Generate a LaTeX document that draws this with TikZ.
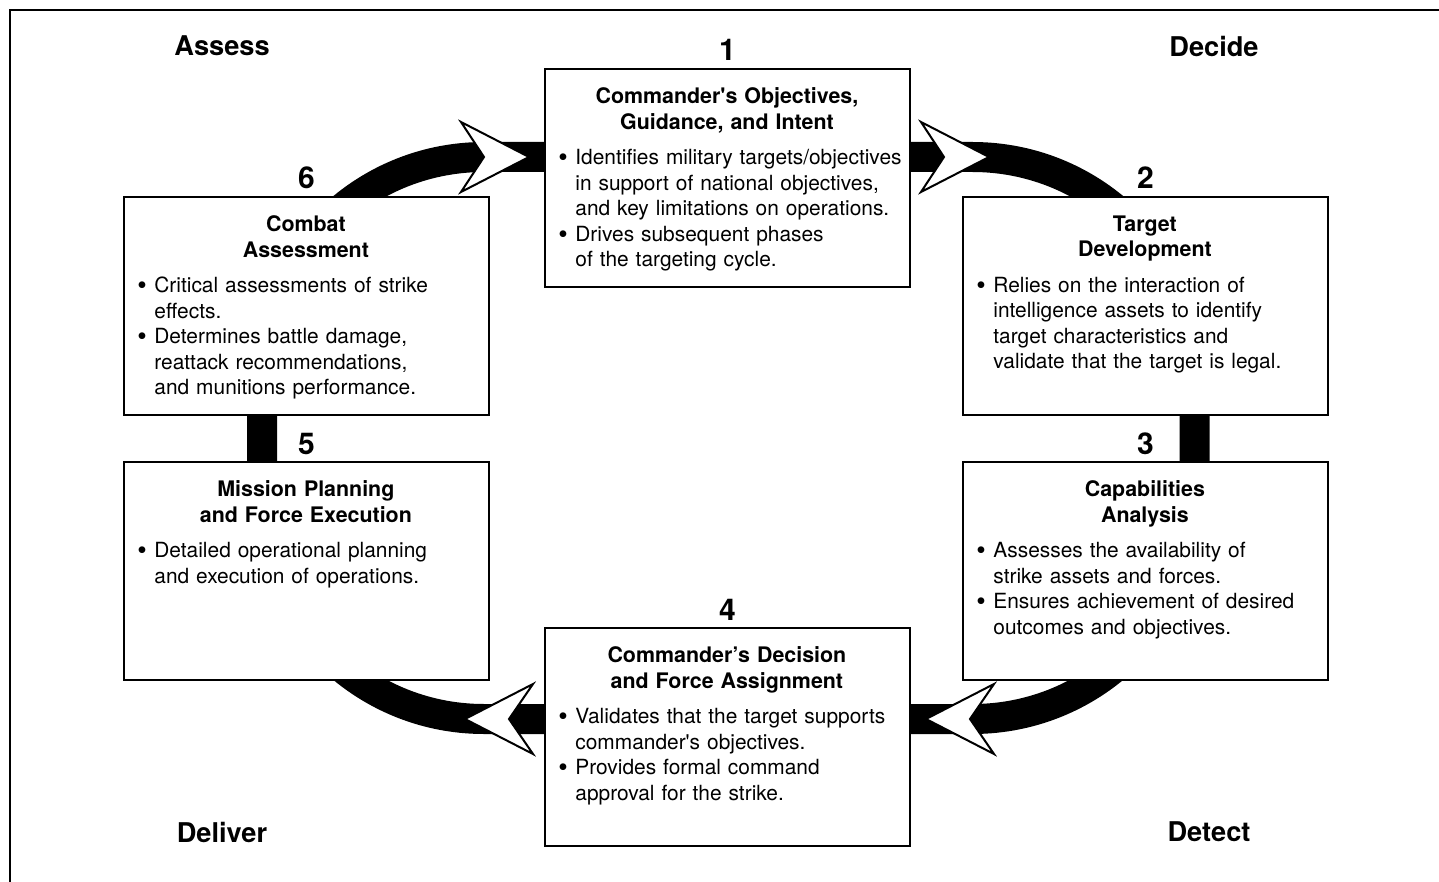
\documentclass[tikz,border=0pt]{standalone}
\usepackage{fontspec}
\setmainfont{TeX Gyre Heros}[Ligatures=TeXOff]
\usetikzlibrary{calc,backgrounds}

\newcommand{\boxhead}[1]{{\centering\advance\rightskip by 11.5pt\fontsize{10.7}{12.75}\bfseries\selectfont #1\par}\vspace{5pt}}
\newcommand{\bul}[1]{\par\hangindent=8.5pt\hangafter=1\noindent\makebox[8.5pt][l]{\raisebox{-0.9pt}{\fontsize{13.5}{12.75}\selectfont\textbullet}}#1\par}

\begin{document}
\begin{tikzpicture}[x=0.5pt, y=0.5pt,
  box/.style={draw=black, line width=1pt, fill=white, minimum width=182.5pt, minimum height=109pt, inner sep=0pt},
  txt/.style={anchor=north west, inner sep=0pt, text width=180pt, align=left, font=\fontsize{10.45}{12.75}\selectfont},
  num/.style={anchor=base, inner sep=0pt, font=\fontsize{15}{15}\bfseries\selectfont},
  phase/.style={inner sep=0pt, font=\fontsize{13.6}{14}\bfseries\selectfont},
  band/.style={line width=15pt, rounded corners=111pt},
  dart/.style={draw=black, fill=white, line width=1pt, line join=miter}]

\useasboundingbox (0,0) rectangle (1439,-882);
\draw [line width=1pt] (9.5,-882) -- (9.5,-10.5) -- (1439,-10.5);

\node [box] (b1) at (727.5,-178) {};
\node [box] (b2) at (1145.5,-306) {};
\node [box] (b3) at (1145.5,-571) {};
\node [box] (b4) at (727.5,-737) {};
\node [box] (b5) at (306.5,-571) {};
\node [box] (b6) at (306.5,-306) {};

% the cycle band, behind the boxes
\coordinate (lw) at ($(b6.center)+(-44.5,0)$);
\coordinate (ln) at ($(b1.west)+(0,21)$);
\coordinate (le) at ($(b2.center)+(49,0)$);
\coordinate (ls) at ($(b4.west)+(0,18)$);
\begin{scope}[on background layer]
\draw [band] (lw |- ln) rectangle (le |- ls);
\end{scope}

\draw [dart] ($(ln -| b1.west)+(-15,0)$) -- ++(-68,35) -- ++(23,-35) -- ++(-23,-35) -- cycle;
\draw [dart] ($(ln -| b1.east)+(78,0)$) -- ++(-68,35) -- ++(23,-35) -- ++(-23,-35) -- cycle;
\draw [dart] ($(ls -| b4.east)+(15,0)$) -- ++(68,35) -- ++(-24,-35) -- ++(24,-35) -- cycle;
\draw [dart] ($(ls -| b4.west)+(-79,0)$) -- ++(68,35) -- ++(-24,-35) -- ++(24,-35) -- cycle;

\node [txt] (t1) at ($(b1.north west)+(14,-19.5)$) {\boxhead{Commander's Objectives,\\Guidance, and Intent}%
\bul{Identifies military targets/objectives\newline in support of national objectives,\newline and key limitations on operations.}%
\bul{Drives subsequent phases\newline of the targeting cycle.}};
\node [txt] (t2) at ($(b2.north west)+(14,-19.5)$) {\boxhead{Target\\Development}%
\bul{Relies on the interaction of\newline intelligence assets to identify\newline target characteristics and\newline validate that the target is legal.}};
\node [txt] (t3) at ($(b3.north west)+(14,-19.5)$) {\boxhead{Capabilities\\Analysis}%
\bul{Assesses the availability of\newline strike assets and forces.}%
\bul{Ensures achievement of desired\newline outcomes and objectives.}};
\node [txt] (t4) at ($(b4.north west)+(14,-19.5)$) {\boxhead{Commander’s Decision\\and Force Assignment}%
\bul{Validates that the target supports\newline commander's objectives.}%
\bul{Provides formal command\newline approval for the strike.}};
\node [txt] (t5) at ($(b5.north west)+(14,-19.5)$) {\boxhead{Mission Planning\\and Force Execution}%
\bul{Detailed operational planning\newline and execution of operations.}};
\node [txt] (t6) at ($(b6.north west)+(14,-19.5)$) {\boxhead{Combat\\Assessment}%
\bul{Critical assessments of strike\newline effects.}%
\bul{Determines battle damage,\newline reattack recommendations,\newline and munitions performance.}};

\node [num] (n1) at ($(b1.north)+(0,7)$) {1};
\node [num] (n2) at ($(b2.north)+(0,7)$) {2};
\node [num] (n3) at ($(b3.north)+(0,7)$) {3};
\node [num] (n4) at ($(b4.north)+(0,7)$) {4};
\node [num] (n5) at ($(b5.north)+(0,7)$) {5};
\node [num] (n6) at ($(b6.north)+(0,7)$) {6};

\node [phase] (assess) at (222,-46) {Assess};
\node [phase] (decide) at (1214,-46) {Decide};
\node [phase] (deliver) at (222,-832) {Deliver};
\node [phase] (detect) at (1209,-832) {Detect};
\end{tikzpicture}
\end{document}
